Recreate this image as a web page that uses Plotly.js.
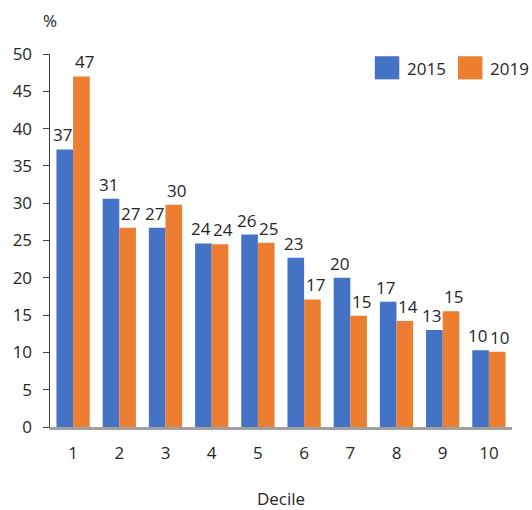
<!DOCTYPE html>
<html><head><meta charset="utf-8">
<script src="https://cdn.plot.ly/plotly-3.0.1.min.js"></script>
<style>html,body{margin:0;padding:0;background:#fff}#chart{width:532px;height:510px}</style>
</head><body><div id="chart"></div>
<script>
const deciles = ['1','2','3','4','5','6','7','8','9','10'];
const values2015 = [37.2, 30.6, 26.7, 24.6, 25.8, 22.7, 20.0, 16.8, 13.0, 10.3];
const values2019 = [47.0, 26.7, 29.8, 24.5, 24.7, 17.1, 14.9, 14.2, 15.5, 10.1];
const labels2015 = ['37','31','27','24','26','23','20','17','13','10'];
const labels2019 = ['47','27','30','24','25','17','15','14','15','10'];
const seriesNames = ['2015', '2019'];
const colors = ['#4472C4', '#ED7D31'];

const font = {family: 'Open Sans, Liberation Sans, sans-serif', size: 17, color: '#262626'};

const traces = [
  {type: 'bar', name: seriesNames[0], x: deciles, y: values2015,
   marker: {color: colors[0]}, hoverinfo: 'none'},
  {type: 'bar', name: seriesNames[1], x: deciles, y: values2019,
   marker: {color: colors[1]}, hoverinfo: 'none'}
];

// value labels, anchored on each bar's data point (category index on the x axis)
const annotations = [];
deciles.forEach((d, i) => {
  annotations.push({x: i, y: values2015[i], xref: 'x', yref: 'y', text: labels2015[i],
    showarrow: false, yanchor: 'bottom', xanchor: 'center', xshift: -11, yshift: 1, font: font});
  annotations.push({x: i, y: values2019[i], xref: 'x', yref: 'y', text: labels2019[i],
    showarrow: false, yanchor: 'bottom', xanchor: 'center', xshift: 11, yshift: 1, font: font});
});
annotations.push({text: '%', xref: 'paper', yref: 'paper', x: 0, y: 1.091,
  xanchor: 'center', yanchor: 'middle', showarrow: false, font: font});
// legend text
annotations.push({text: seriesNames[0], xref: 'paper', yref: 'paper', x: 0.769, y: 0.962,
  xanchor: 'left', yanchor: 'middle', showarrow: false, font: font});
annotations.push({text: seriesNames[1], xref: 'paper', yref: 'paper', x: 0.948, y: 0.962,
  xanchor: 'left', yanchor: 'middle', showarrow: false, font: font});

const shapes = [
  {type: 'rect', xref: 'paper', yref: 'paper', x0: 0.703, x1: 0.756, y0: 0.932, y1: 0.994,
   fillcolor: colors[0], line: {width: 0}},
  {type: 'rect', xref: 'paper', yref: 'paper', x0: 0.883, x1: 0.936, y0: 0.932, y1: 0.994,
   fillcolor: colors[1], line: {width: 0}}
];

const layout = {
  width: 532, height: 510,
  margin: {l: 50, r: 20, t: 54, b: 83},
  paper_bgcolor: '#fff', plot_bgcolor: '#fff',
  font: font,
  barmode: 'group', bargap: 0.28, bargroupgap: 0,
  showlegend: false,
  xaxis: {type: 'category', categoryarray: deciles, categoryorder: 'array',
          range: [-0.5, deciles.length - 0.5],
          showgrid: false, zeroline: false,
          showline: true, linecolor: '#a0a0a0', linewidth: 2.5,
          ticks: '', tickfont: font, ticklabelstandoff: 9,
          title: {text: 'Decile', font: font, standoff: 30}},
  yaxis: {range: [0, 50], dtick: 5, showgrid: false, zeroline: false,
          showline: true, linecolor: '#404040', linewidth: 1.5,
          ticks: 'outside', ticklen: 6, tickcolor: '#404040', tickfont: font,
          ticklabelstandoff: 7},
  annotations: annotations,
  shapes: shapes
};

Plotly.newPlot('chart', traces, layout, {staticPlot: true, displayModeBar: false});
</script></body></html>
